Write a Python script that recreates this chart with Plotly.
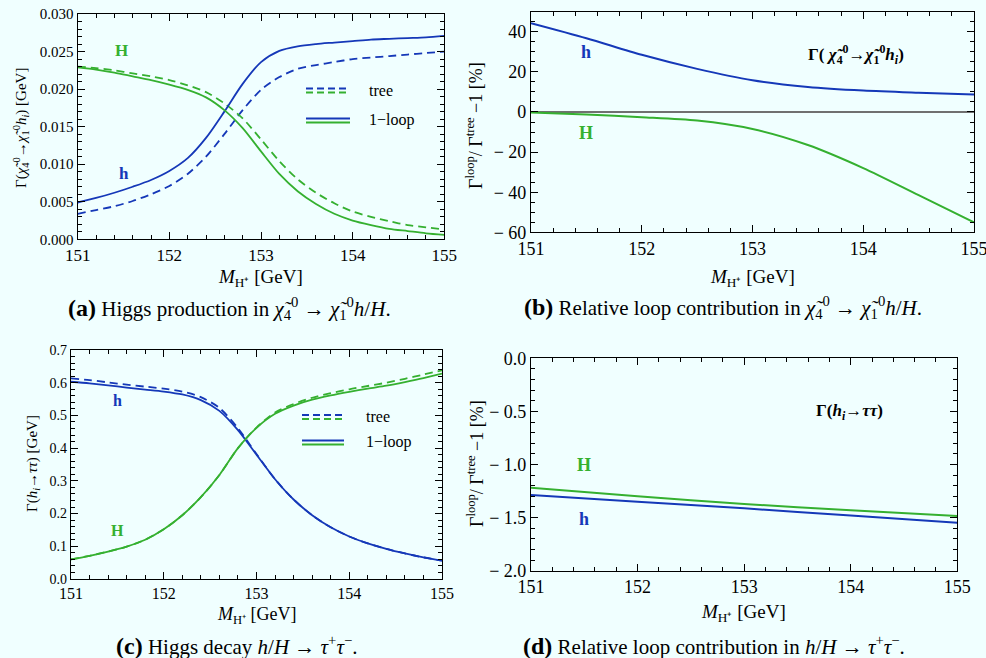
import plotly.graph_objects as go

# ---------------- data ----------------
# Panel (a): Gamma(chi4 -> chi1 h_i) [GeV]
xa = [151.0, 151.2, 151.4, 151.6, 151.8, 152.0, 152.2, 152.4, 152.6, 152.8, 153.0,
      153.2, 153.4, 153.6, 153.8, 154.0, 154.2, 154.4, 154.6, 154.8, 155.0]
a_h_loop = [0.0049, 0.0055, 0.0062, 0.0070, 0.0079, 0.0091, 0.0108, 0.0135, 0.0170, 0.0207, 0.0236,
            0.0251, 0.0257, 0.0260, 0.0262, 0.0264, 0.0266, 0.0267, 0.0268, 0.0269, 0.0271]
a_h_tree = [0.0034, 0.0039, 0.0044, 0.0051, 0.0060, 0.0071, 0.0087, 0.0110, 0.0140, 0.0172, 0.0199,
            0.0216, 0.0227, 0.0232, 0.0236, 0.0240, 0.0242, 0.0244, 0.0246, 0.0248, 0.0250]
a_H_loop = [0.0229, 0.0226, 0.0222, 0.0217, 0.0212, 0.0206, 0.0199, 0.0189, 0.0172, 0.0148, 0.0117,
            0.0087, 0.0064, 0.0047, 0.0034, 0.0025, 0.0019, 0.0014, 0.0011, 0.0008, 0.0006]
a_H_tree = [0.0230, 0.0228, 0.0225, 0.0221, 0.0217, 0.0212, 0.0205, 0.0196, 0.0181, 0.0161, 0.0133,
            0.0104, 0.0080, 0.0062, 0.0048, 0.0037, 0.0030, 0.0024, 0.0019, 0.0016, 0.0013]

# Panel (b): relative loop contribution [%]
xb = [151, 151.5, 152, 152.5, 153, 153.5, 154, 154.5, 155]
b_h = [44.3, 36.8, 28.5, 21.5, 15.8, 12.5, 10.7, 9.6, 8.7]
b_H = [-0.3, -1.3, -2.6, -4.3, -8.5, -16.5, -28.0, -41.5, -55.0]

# Panel (c): Gamma(h_i -> tau tau) [GeV]
xc = xa
c_h_loop = [0.603, 0.598, 0.592, 0.585, 0.579, 0.573, 0.564, 0.547, 0.514, 0.455, 0.380,
            0.305, 0.243, 0.195, 0.158, 0.130, 0.109, 0.092, 0.078, 0.066, 0.056]
c_h_tree = [0.613, 0.608, 0.601, 0.594, 0.588, 0.582, 0.573, 0.556, 0.523, 0.461, 0.382,
            0.305, 0.243, 0.195, 0.158, 0.130, 0.109, 0.092, 0.078, 0.066, 0.056]
c_H_loop = [0.060, 0.071, 0.084, 0.099, 0.120, 0.152, 0.195, 0.250, 0.318, 0.400, 0.462,
            0.505, 0.530, 0.548, 0.561, 0.572, 0.582, 0.591, 0.602, 0.614, 0.628]
c_H_tree = [0.060, 0.071, 0.084, 0.099, 0.120, 0.152, 0.195, 0.250, 0.318, 0.400, 0.463,
            0.509, 0.535, 0.554, 0.568, 0.580, 0.590, 0.600, 0.612, 0.625, 0.638]

# Panel (d): relative loop contribution [%]
xd = [151, 152, 153, 154, 155]
d_H = [-1.218, -1.300, -1.372, -1.430, -1.485]
d_h = [-1.287, -1.350, -1.413, -1.480, -1.548]

# tick labels
x_ticks = [151, 152, 153, 154, 155]
a_yticks = [0.0, 0.005, 0.010, 0.015, 0.020, 0.025, 0.030]
a_yticktext = ["0.000", "0.005", "0.010", "0.015", "0.020", "0.025", "0.030"]
b_yticks = [-60, -40, -20, 0, 20, 40]
b_yticktext = ["− 60", "− 40", "− 20", "0", "20", "40"]
c_yticks = [0.0, 0.1, 0.2, 0.3, 0.4, 0.5, 0.6, 0.7]
c_yticktext = ["0.0", "0.1", "0.2", "0.3", "0.4", "0.5", "0.6", "0.7"]
d_yticks = [-2.0, -1.5, -1.0, -0.5, 0.0]
d_yticktext = ["− 2.0", "− 1.5", "− 1.0", "− 0.5", "0.0"]

# ---------------- style ----------------
BLUE = "#1538b8"
GREEN = "#35b030"
BG = "#f0ffff"
FONT = "Liberation Serif"
DASH = "8px,5px"
W, H = 986, 658

fig = go.Figure()

def line(x, y, color, dash, xa_, ya_, width=1.8):
    fig.add_trace(go.Scatter(x=x, y=y, mode="lines", xaxis=xa_, yaxis=ya_,
                             line=dict(color=color, width=width, dash=dash, shape="spline", smoothing=0.8),
                             showlegend=False, hoverinfo="skip"))

# (a)
line(xa, a_h_tree, BLUE, DASH, "x", "y")
line(xa, a_H_tree, GREEN, DASH, "x", "y")
line(xa, a_h_loop, BLUE, "solid", "x", "y")
line(xa, a_H_loop, GREEN, "solid", "x", "y")
# (b)
line(xb, b_h, BLUE, "solid", "x2", "y2", 2)
line(xb, b_H, GREEN, "solid", "x2", "y2", 2)
# (c)
line(xc, c_h_tree, BLUE, DASH, "x3", "y3")
line(xc, c_H_tree, GREEN, DASH, "x3", "y3")
line(xc, c_h_loop, BLUE, "solid", "x3", "y3")
line(xc, c_H_loop, GREEN, "solid", "x3", "y3")
# (d)
line(xd, d_h, BLUE, "solid", "x4", "y4", 2)
line(xd, d_H, GREEN, "solid", "x4", "y4", 2)


def px(v):
    return v / W


def py(v):
    return 1 - v / H


def axis(domain, rng, anchor, tickvals, ticktext, size, minor_dtick, zeroline=False):
    d = dict(domain=domain, range=rng, anchor=anchor, automargin=False,
             showline=True, linecolor="black", linewidth=1.2,
             mirror="ticks", ticks="inside", ticklen=7, tickwidth=1, tickcolor="black",
             showgrid=False, zeroline=zeroline, tickvals=tickvals, ticklabeloverflow="allow",
             tickfont=dict(family=FONT, size=size, color="black"),
             minor=dict(ticks="inside", ticklen=4, dtick=minor_dtick, tickcolor="black", showgrid=False))
    if ticktext is not None:
        d["ticktext"] = ticktext
    if zeroline:
        d["zerolinecolor"] = "#707070"
        d["zerolinewidth"] = 1.5
    return d

layout = dict(
    width=W, height=H, margin=dict(l=0, r=0, t=0, b=0, autoexpand=False),
    paper_bgcolor=BG, plot_bgcolor=BG,
    font=dict(family=FONT, color="black"),
    xaxis=axis([px(77.7), px(444.3)], [151, 155], "y", x_ticks, None, 17, 0.2),
    yaxis=axis([py(239.3), py(14)], [0, 0.030], "x", a_yticks, a_yticktext, 15, 0.001),
    xaxis2=axis([px(531), px(974)], [151, 155], "y2", x_ticks, None, 18, 0.2),
    yaxis2=axis([py(232.3), py(11.7)], [-60, 50], "x2", b_yticks, b_yticktext, 18, 5, zeroline=True),
    xaxis3=axis([px(71), px(442)], [151, 155], "y3", x_ticks, None, 16, 0.2),
    yaxis3=axis([py(579), py(350)], [0, 0.7], "x3", c_yticks, c_yticktext, 14, 0.02),
    xaxis4=axis([px(531), px(957.3)], [151, 155], "y4", x_ticks, None, 18, 0.2),
    yaxis4=axis([py(570.7), py(358.3)], [-2.0, 0.0], "x4", d_yticks, d_yticktext, 18, 0.1),
)
fig.update_layout(**layout)

ann = []

def text(x, y, t, size, xref="paper", yref="paper", color="black", angle=0, xanchor="center"):
    ann.append(dict(x=x, y=y, xref=xref, yref=yref, text=t, showarrow=False, textangle=angle,
                    font=dict(family=FONT, size=size, color=color), xanchor=xanchor, yanchor="middle"))

# curve labels
text(151.48, 0.0252, "<b>H</b>", 17, "x", "y", GREEN)
text(151.5, 0.0088, "<b>h</b>", 17, "x", "y", BLUE)
text(151.5, 30, "<b>h</b>", 18, "x2", "y2", BLUE)
text(151.5, -10.4, "<b>H</b>", 18, "x2", "y2", GREEN)
text(151.5, 0.547, "<b>h</b>", 16, "x3", "y3", BLUE)
text(151.5, 0.147, "<b>H</b>", 16, "x3", "y3", GREEN)
text(151.5, -1.0, "<b>H</b>", 18, "x4", "y4", GREEN)
text(151.5, -1.51, "<b>h</b>", 18, "x4", "y4", BLUE)

# in-plot titles
text(153.93, 28.5, "<b>Γ( <i>χ̃</i><sub>4</sub><sup>0</sup>→<i>χ̃</i><sub>1</sub><sup>0</sup><i>h<sub>i</sub></i>)</b>", 17, "x2", "y2")
text(153.99, -0.51, "<b>Γ(<i>h<sub>i</sub></i>→<i>ττ</i>)</b>", 17, "x4", "y4")

# legends (a) and (c)
text(px(367), py(90.5), "tree", 16, xanchor="left")
text(px(367), py(120), "1−loop", 16, xanchor="left")
text(px(364), py(416.5), "tree", 16, xanchor="left")
text(px(364), py(442), "1−loop", 16, xanchor="left")

shapes = []
def lseg(x0, x1, yy, color, dash):
    shapes.append(dict(type="line", xref="paper", yref="paper", x0=px(x0), x1=px(x1), y0=py(yy), y1=py(yy),
                       line=dict(color=color, width=1.8, dash=dash)))

lseg(306, 349, 88.5, BLUE, "7px,4px")
lseg(306, 349, 92.5, GREEN, "7px,4px")
lseg(306, 350, 118.5, BLUE, "solid")
lseg(306, 350, 122.5, GREEN, "solid")
lseg(302, 343, 415, BLUE, "7px,4px")
lseg(302, 343, 419, GREEN, "7px,4px")
lseg(302, 344, 440.5, BLUE, "solid")
lseg(302, 344, 444.5, GREEN, "solid")

# axis titles
xt = "<i>M</i><sub>H⁺</sub> [GeV]"
text(px(260), py(278), xt, 19)
text(px(752), py(278), xt, 19)
text(px(257), py(615), xt, 18)
text(px(743), py(613), xt, 19)

text(px(21), py(128), "Γ(<i>χ̃</i><sub>4</sub><sup>0</sup>→<i>χ̃</i><sub>1</sub><sup>0</sup><i>h<sub>i</sub></i>) [GeV]", 15, angle=-90)
text(px(475), py(126), "Γ<sup>loop</sup>/ Γ<sup>tree</sup> −1 [%]", 18, angle=-90)
text(px(33), py(464), "Γ(<i>h<sub>i</sub></i>→<i>ττ</i>) [GeV]", 15, angle=-90)
text(px(475), py(464), "Γ<sup>loop</sup>/ Γ<sup>tree</sup> −1 [%]", 18, angle=-90)

# captions
CAP = 21
LBL = "<b><span style='font-size:24px'>({})</span></b> "
text(px(229), py(308), LBL.format("a") + "Higgs production in <i>χ̃</i><sub>4</sub><sup>0</sup> → <i>χ̃</i><sub>1</sub><sup>0</sup><i>h</i>/<i>H</i>.", CAP)
text(px(723), py(307), LBL.format("b") + "Relative loop contribution in <i>χ̃</i><sub>4</sub><sup>0</sup> → <i>χ̃</i><sub>1</sub><sup>0</sup><i>h</i>/<i>H</i>.", CAP)
text(px(236), py(645), LBL.format("c") + "Higgs decay <i>h</i>/<i>H</i> → <i>τ</i><sup>+</sup><i>τ</i><sup>−</sup>.", CAP)
text(px(714), py(645), LBL.format("d") + "Relative loop contribution in <i>h</i>/<i>H</i> → <i>τ</i><sup>+</sup><i>τ</i><sup>−</sup>.", CAP)

fig.update_layout(annotations=ann, shapes=shapes)
fig.write_html("out.html", config={"displayModeBar": False})

# remove the browser's default page margin so the figure sits at (0, 0)
with open("out.html", "r", encoding="utf-8") as f:
    html = f.read()
html = html.replace("<head>", "<head><style>html,body{margin:0;padding:0;overflow:hidden;}</style>", 1)
with open("out.html", "w", encoding="utf-8") as f:
    f.write(html)
